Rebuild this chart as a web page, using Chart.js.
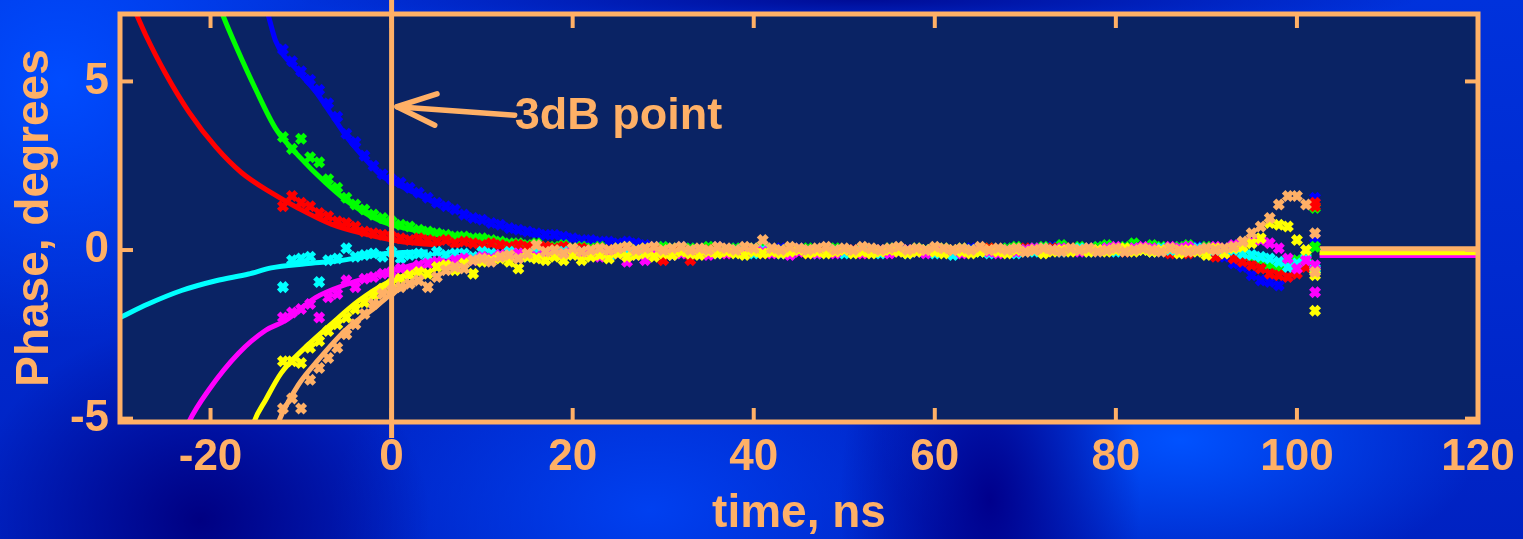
<!DOCTYPE html>
<html>
<head>
<meta charset="utf-8">
<script src="https://cdn.jsdelivr.net/npm/chart.js@4.4.0/dist/chart.umd.min.js"></script>
<style>
  html, body { margin: 0; padding: 0; }
  body {
    width: 1523px; height: 539px; overflow: hidden;
    background:
      radial-gradient(ellipse 230px 200px at 200px 520px, rgba(0,0,130,1), rgba(0,0,130,0)),
      radial-gradient(ellipse 150px 260px at 990px 500px, rgba(0,0,140,1), rgba(0,0,140,0)),
      radial-gradient(ellipse 300px 150px at 1180px 440px, rgba(0,82,255,1), rgba(0,82,255,0)),
      radial-gradient(ellipse 260px 260px at 60px 80px, rgba(0,76,255,1), rgba(0,76,255,0)),
      radial-gradient(ellipse 560px 30px at 860px 0px, rgba(0,12,150,1), rgba(0,12,150,0)),
      radial-gradient(ellipse 320px 200px at 650px 510px, rgba(0,64,240,1), rgba(0,64,240,0)),
      linear-gradient(180deg, #0032dc 0%, #0022c2 100%);
  }
  canvas { display: block; }
</style>
</head>
<body>
<canvas id="phaseChart" width="1523" height="539"></canvas>
<script>
// axis ticks
const xTicks = [-20, 0, 20, 40, 60, 80, 100, 120];
const yTicks = [-5, 0, 5];

// sample times of the measured points (ns)
const tMarks = [
  -12, -11, -10, -9, -8, -7, -6, -5, -4, -3,
  -2, -1, 0, 1, 2, 3, 4, 5, 6, 7,
  8, 9, 10, 11, 12, 13, 14, 15, 16, 17,
  18, 19, 20, 21, 22, 23, 24, 25, 26, 27,
  28, 29, 30, 31, 32, 33, 34, 35, 36, 37,
  38, 39, 40, 41, 42, 43, 44, 45, 46, 47,
  48, 49, 50, 51, 52, 53, 54, 55, 56, 57,
  58, 59, 60, 61, 62, 63, 64, 65, 66, 67,
  68, 69, 70, 71, 72, 73, 74, 75, 76, 77,
  78, 79, 80, 81, 82, 83, 84, 85, 86, 87,
  88, 89, 90, 91, 92, 93, 94, 95, 96, 97,
  98, 99, 100, 101, 102, 102
];

// measured phase (degrees)
const blueMarks = [
  5.95, 5.6, 5.3, 5.05, 4.75, 4.35, 3.95, 3.45, 3.2, 2.8,
  2.5, 2.25, 2.1, 2.0, 1.85, 1.7, 1.55, 1.4, 1.3, 1.2,
  1.05, 0.95, 0.9, 0.8, 0.75, 0.65, 0.6, 0.55, 0.5, 0.45,
  0.45, 0.4, 0.35, 0.3, 0.3, 0.25, 0.25, 0.2, 0.25, 0.2,
  0.15, 0.1, 0.1, 0.05, 0.1, 0.05, 0, 0.05, 0.1, 0,
  0.05, 0, 0.05, -0.05, 0, 0.05, 0, 0.05, -0.05, 0,
  0.05, 0, -0.05, 0, 0.05, 0, -0.05, 0, 0.05, 0,
  0, -0.05, 0.05, 0, -0.05, 0, 0.05, 0, -0.05, 0,
  0.05, 0, -0.05, 0, 0.05, 0.1, 0, 0.05, 0, 0.05,
  0.1, 0, 0.05, 0.1, 0, 0.05, 0.1, 0.05, 0, 0.1,
  0.05, 0.1, 0, -0.1, -0.2, -0.4, -0.5, -0.75, -0.9, -0.95,
  -1.05, -0.8, -0.3, 0, 1.55, 0.35
];
const greenMarks = [
  3.35, 3.0, 3.3, 2.75, 2.6, 2.1, 1.85, 1.55, 1.35, 1.2,
  1.05, 0.95, 0.85, 0.75, 0.7, 0.6, 0.55, 0.5, 0.45, 0.4,
  0.4, 0.35, 0.35, 0.3, 0.25, 0.2, 0.2, 0.15, 0.2, 0.1,
  0.1, 0.15, 0.05, 0.1, 0.05, 0.1, 0, 0.05, 0.1, 0,
  0.05, 0, 0.1, 0.05, 0, 0.05, 0, 0.1, 0.05, 0,
  0.05, 0, 0.05, 0.1, 0, 0, 0.05, 0, 0.05, 0,
  0, 0.05, 0, -0.05, 0.05, 0, 0, 0.05, 0, -0.05,
  0.05, 0, 0, 0.05, 0, 0.05, 0, -0.05, 0.05, 0,
  0.05, 0.1, 0, 0.05, 0.1, 0.05, 0.15, 0.05, 0.1, 0.05,
  0.1, 0.15, 0.05, 0.1, 0.2, 0.05, 0.15, 0.1, 0.05, 0.1,
  0.15, 0.05, 0.1, 0.05, 0, 0.1, -0.1, -0.2, -0.3, -0.45,
  -0.55, -0.4, -0.3, -0.2, 1.25, 0.1
];
const redMarks = [
  1.3, 1.6, 1.4, 1.3, 1.1, 1.0, 0.85, 0.8, 0.7, 0.55,
  0.5, 0.45, 0.4, 0.35, 0.3, 0.35, 0.3, 0.25, 0.3, 0.2,
  0.25, 0.2, 0.15, 0.2, 0.15, 0.1, 0.15, 0.1, 0.05, 0.1,
  0.05, 0.1, 0, 0.05, 0, 0.05, 0, -0.05, 0, -0.05,
  -0.1, 0, -0.3, -0.05, 0, -0.3, -0.05, 0, -0.05, -0.1,
  0, -0.05, 0, -0.1, 0, -0.05, 0, -0.05, -0.1, 0,
  -0.05, 0, -0.05, 0, -0.1, 0, -0.05, 0, 0, -0.05,
  0, -0.05, 0, 0, -0.05, 0, -0.05, 0, 0.05, 0,
  -0.05, 0, 0.05, 0, -0.05, 0.05, 0, 0.05, 0, -0.05,
  0, 0.05, 0, -0.05, 0.05, 0, -0.05, 0, -0.1, 0,
  -0.1, 0, -0.05, -0.2, -0.1, -0.25, -0.35, -0.45, -0.55, -0.7,
  -0.75, -0.8, -0.7, -0.5, 1.4, 1.3
];
const cyanMarks = [
  -1.1, -0.3, -0.25, -0.2, -0.95, -0.3, -0.25, 0.05, -0.2, -0.15,
  -0.1, -0.2, -0.05, -0.25, -0.15, -0.1, -0.2, -0.05, -0.15, -0.1,
  -0.1, -0.2, -0.05, -0.1, -0.15, -0.05, -0.1, -0.2, -0.05, -0.1,
  -0.15, -0.05, -0.1, -0.05, -0.15, -0.1, -0.2, -0.05, -0.1, -0.15,
  -0.05, -0.1, -0.05, -0.15, -0.05, -0.1, 0, -0.05, -0.1, -0.05,
  0, -0.05, -0.1, 0, -0.05, -0.1, -0.05, 0, -0.05, -0.1,
  -0.05, 0, -0.1, -0.05, 0, -0.05, -0.1, -0.05, 0, -0.1,
  -0.05, 0, -0.1, -0.05, -0.15, -0.05, 0, -0.05, -0.1, 0,
  -0.05, -0.1, 0, -0.05, 0.05, 0, -0.05, 0, 0.05, -0.05,
  0, 0.05, -0.05, 0, 0.05, 0, -0.05, 0.05, 0, -0.05,
  0, 0.05, -0.05, 0, -0.05, 0, -0.1, -0.15, -0.2, -0.25,
  -0.35, -0.5, -0.4, -0.25, -0.55, -0.6
];
const magentaMarks = [
  -2.0, -1.85, -1.75, -1.6, -2.0, -1.4, -1.3, -0.9, -1.1, -0.85,
  -0.8, -0.7, -0.65, -0.55, -0.6, -0.45, -0.4, -0.35, -0.4, -0.3,
  -0.25, -0.3, -0.2, -0.25, -0.15, -0.2, -0.1, -0.15, -0.2, -0.1,
  -0.15, -0.1, -0.05, -0.15, -0.1, -0.2, -0.05, -0.1, -0.35, -0.15,
  -0.3, -0.1, -0.05, -0.15, -0.1, -0.05, -0.1, -0.15, -0.05, -0.1,
  -0.05, -0.1, 0, -0.05, -0.1, -0.05, -0.15, -0.05, 0, -0.1,
  -0.05, -0.1, 0, -0.05, -0.1, -0.05, 0, -0.1, -0.05, 0,
  -0.05, -0.1, 0, -0.05, 0, -0.1, -0.05, 0, -0.05, -0.1,
  0, -0.05, 0, 0.05, -0.05, 0, 0.05, 0, -0.05, 0.05,
  0, 0.05, 0.1, 0, 0.05, 0.1, 0.05, 0, 0.1, 0.05,
  0.1, 0, 0.05, 0.1, 0.05, 0.15, 0.2, 0.25, 0.3, 0.2,
  0.05, -0.25, -0.55, -0.3, -1.25, -0.45
];
const yellowMarks = [
  -3.3, -3.3, -3.35, -2.9, -2.7, -2.4, -2.2, -2.0, -1.75, -1.55,
  -1.35, -1.15, -1.0, -0.85, -0.75, -0.65, -0.7, -0.5, -0.45, -0.6,
  -0.4, -0.7, -0.35, -0.3, -0.25, -0.35, -0.55, -0.2, -0.25, -0.3,
  -0.2, -0.3, -0.15, -0.3, -0.2, -0.15, -0.25, -0.1, -0.2, -0.15,
  -0.1, -0.2, -0.1, -0.15, -0.05, -0.1, -0.15, -0.05, -0.1, -0.05,
  -0.1, -0.15, -0.05, -0.1, -0.05, -0.1, -0.05, 0, -0.1, -0.05,
  -0.1, -0.05, 0, -0.1, -0.05, -0.1, -0.05, 0, -0.05, -0.1,
  -0.05, 0, -0.05, -0.1, 0, -0.05, -0.1, -0.05, 0, -0.05,
  -0.1, 0, -0.05, 0, -0.1, -0.05, 0, -0.05, 0, -0.05,
  0, -0.05, 0, 0.05, -0.05, 0, -0.05, 0, 0.05, -0.1,
  0, -0.05, -0.15, 0.05, -0.1, 0.05, 0.1, 0.2, 0.35, 0.8,
  0.75, 0.7, 0.3, 0, -0.75, -1.8
];
const orangeMarks = [
  -4.7, -4.4, -4.7, -3.85, -3.5, -3.2, -2.9, -2.5, -2.2, -1.9,
  -1.6, -1.3, -1.2, -1.1, -1.0, -0.9, -1.1, -0.8, -0.6, -0.5,
  -0.55, -0.3, -0.25, -0.35, -0.2, -0.15, -0.25, -0.1, 0.15, -0.05,
  0, -0.1, 0.05, -0.05, 0, 0.05, 0, 0.05, 0.1, 0,
  0.05, 0.1, 0, 0.05, 0.1, 0, 0.05, 0, 0.1, 0.05,
  0, 0.1, 0.05, 0.3, 0.05, 0, 0.1, 0.05, 0, 0.05,
  0.1, 0, 0.05, 0, 0.1, 0.05, 0, 0.05, 0.1, 0,
  0.05, 0, 0.1, 0.05, 0, 0.05, 0, 0.1, 0, 0.05,
  0, 0.05, -0.05, 0, 0.05, 0, -0.05, 0.05, 0, 0.05,
  -0.05, 0, 0.05, -0.05, 0, 0.05, 0, -0.05, 0.05, 0,
  -0.05, 0, 0.05, 0, 0.05, 0.1, 0.25, 0.5, 0.7, 0.95,
  1.35, 1.6, 1.6, 1.35, 0.5, -0.65
];

// fitted curves (time ns, phase degrees)
const blueFitT = [-15, -13.6, -12.8, -10.3, -8.4, -6.6, -4.8, -2.9, -1.1, 1, 3.3, 5.5];
const blueFit = [8.2, 6.94, 6.2, 5.3, 4.7, 4.0, 3.3, 2.7, 2.2, 1.9, 1.6, 1.3];
const greenFitT = [-19.5, -18.6, -17.2, -15, -12.8, -10.3, -7.3, -4.4, -1.1, 4.4, 11.8];
const greenFit = [7.6, 6.94, 6.05, 4.76, 3.6, 2.8, 2.0, 1.35, 0.85, 0.5, 0.26];
const redFitT = [-29, -28.2, -27.2, -25, -22.4, -19.4, -16.6, -13.3, -10.3, -6.6, -2.9, 0.8, 5];
const redFit = [7.5, 7.0, 6.4, 5.25, 4.1, 3.05, 2.3, 1.7, 1.24, 0.76, 0.47, 0.26, 0.15];
const cyanFitT = [-30, -26.9, -23.2, -19.4, -15.8, -13.3, -9.5, -5.9, -1.1, 4];
const cyanFit = [-2.0, -1.6, -1.2, -0.91, -0.71, -0.53, -0.41, -0.32, -0.12, -0.05];
const magentaFitT = [-23, -22.4, -20.2, -16.9, -13.9, -11.7, -8.4, -4.8, -1.1, 3];
const magentaFit = [-5.5, -5.1, -4.15, -3.06, -2.38, -2.09, -1.41, -1.0, -0.7, -0.4];
const yellowFitT = [-15.6, -15.2, -13.9, -12.2, -9.5, -6.6, -3.6, -0.7, 3];
const yellowFit = [-5.5, -5.1, -4.44, -3.65, -2.88, -2.18, -1.5, -1.0, -0.6];
const orangeFitT = [-13, -12.5, -10.3, -8.1, -5.1, -1.8, 0, 3];
const orangeFit = [-5.5, -5.1, -4.0, -3.26, -2.38, -1.7, -1.3, -0.9];

// flat traces after the pulse
const tailT = [102.5, 120];
const orangeTail = [0.04, 0.04];
const yellowTail = [-0.08, -0.08];
const magentaTail = [-0.16, -0.16];

// 3dB marker
const markerT = 0;
const arrowTip = { x: 0.6, y: 4.25 };
const arrowTail = { x: 13.6, y: 4.0 };
const noteText = "3dB point";

const ORANGE = "#ffb066";
const PLOT_BG = "#0a2364";
const FONT = "'Liberation Sans', Arial, sans-serif";
const col = {
  blue: "#0000ff", green: "#00ff00", red: "#ff0000", cyan: "#00ffff",
  magenta: "#ff00ff", yellow: "#ffff00", orange: ORANGE
};

function pts(xs, ys) {
  return xs.map((x, i) => ({ x: x, y: ys[i] }));
}

function fitSet(xs, ys, c, order) {
  return {
    data: pts(xs, ys), showLine: true, borderColor: c, borderWidth: 5,
    pointRadius: 0, cubicInterpolationMode: "monotone", order: order, clip: 0
  };
}

function markSet(ys, c, order) {
  return {
    data: pts(tMarks, ys), showLine: false, pointStyle: "crossRot",
    pointRadius: 6, borderWidth: 5, borderColor: c, backgroundColor: c,
    order: order
  };
}

const datasets = [
  markSet(orangeMarks, col.orange, 1),
  markSet(yellowMarks, col.yellow, 2),
  markSet(magentaMarks, col.magenta, 3),
  markSet(cyanMarks, col.cyan, 4),
  markSet(redMarks, col.red, 5),
  markSet(greenMarks, col.green, 6),
  markSet(blueMarks, col.blue, 7),
  fitSet(tailT, orangeTail, col.orange, 10),
  fitSet(tailT, yellowTail, col.yellow, 11),
  fitSet(tailT, magentaTail, col.magenta, 12),
  fitSet(orangeFitT, orangeFit, col.orange, 20),
  fitSet(yellowFitT, yellowFit, col.yellow, 21),
  fitSet(magentaFitT, magentaFit, col.magenta, 22),
  fitSet(cyanFitT, cyanFit, col.cyan, 23),
  fitSet(redFitT, redFit, col.red, 24),
  fitSet(greenFitT, greenFit, col.green, 25),
  fitSet(blueFitT, blueFit, col.blue, 26)
];

// plot background, frame, inner ticks, 3dB line + arrow
const framePlugin = {
  id: "frame",
  beforeDraw(chart) {
    const { ctx, chartArea: a } = chart;
    ctx.save();
    ctx.fillStyle = PLOT_BG;
    ctx.fillRect(a.left, a.top, a.right - a.left, a.bottom - a.top);
    ctx.restore();
  },
  afterDraw(chart) {
    const { ctx, chartArea: a, scales } = chart;
    const xs = scales.x, ys = scales.y;
    const seg = (x1, y1, x2, y2) => {
      ctx.beginPath(); ctx.moveTo(x1, y1); ctx.lineTo(x2, y2); ctx.stroke();
    };
    ctx.save();
    ctx.strokeStyle = ORANGE;
    ctx.fillStyle = ORANGE;
    ctx.lineWidth = 4;
    xTicks.forEach(v => {
      const px = xs.getPixelForValue(v);
      seg(px, a.bottom, px, a.bottom - 14);
      seg(px, a.top, px, a.top + 14);
    });
    yTicks.forEach(v => {
      const py = ys.getPixelForValue(v);
      seg(a.left, py, a.left + 13, py);
      seg(a.right, py, a.right - 13, py);
    });
    ctx.lineWidth = 5;
    ctx.strokeRect(a.left, a.top, a.right - a.left, a.bottom - a.top);

    // 3dB vertical line
    const x0 = xs.getPixelForValue(markerT);
    ctx.lineWidth = 5;
    seg(x0, 0, x0, a.bottom + 16);

    // arrow
    const tx = xs.getPixelForValue(arrowTip.x), ty = ys.getPixelForValue(arrowTip.y);
    const ex = xs.getPixelForValue(arrowTail.x), ey = ys.getPixelForValue(arrowTail.y);
    const ang = Math.atan2(ey - ty, ex - tx);
    const len = 42, spread = 22 * Math.PI / 180;
    ctx.lineWidth = 5.5;
    ctx.lineCap = "round";
    ctx.lineJoin = "round";
    seg(tx, ty, ex, ey);
    ctx.beginPath();
    ctx.moveTo(tx + len * Math.cos(ang - spread), ty + len * Math.sin(ang - spread));
    ctx.lineTo(tx, ty);
    ctx.lineTo(tx + len * Math.cos(ang + spread), ty + len * Math.sin(ang + spread));
    ctx.stroke();

    ctx.font = "bold 45px " + FONT;
    ctx.textAlign = "left";
    ctx.textBaseline = "middle";
    ctx.fillText(noteText, ex, ey + 1);
    ctx.restore();
  }
};

new Chart(document.getElementById("phaseChart"), {
  type: "scatter",
  data: { datasets: datasets },
  options: {
    responsive: false,
    animation: false,
    events: [],
    layout: { padding: { left: 0, right: 45, top: 14, bottom: 0 } },
    plugins: { legend: { display: false }, tooltip: { enabled: false } },
    scales: {
      x: {
        type: "linear", min: -30, max: 120,
        grid: { display: false, drawTicks: false },
        border: { display: false },
        afterBuildTicks: s => { s.ticks = xTicks.map(v => ({ value: v })); },
        afterFit: s => { s.height = 117; s.paddingLeft = 0; s.paddingRight = 0; },
        ticks: {
          color: ORANGE, padding: 9, autoSkip: false, maxRotation: 0,
          font: { family: FONT, size: 44, weight: "bold" }
        },
        title: {
          display: true, text: "time, ns", color: ORANGE,
          padding: { top: 0, bottom: 2 },
          font: { family: FONT, size: 46, weight: "bold", lineHeight: 1 }
        }
      },
      y: {
        type: "linear", min: -5.1, max: 7,
        grid: { display: false, drawTicks: false },
        border: { display: false },
        afterBuildTicks: s => { s.ticks = yTicks.map(v => ({ value: v })); },
        afterFit: s => { s.width = 120; s.paddingTop = 0; s.paddingBottom = 0; },
        ticks: {
          color: ORANGE, padding: 11,
          font: { family: FONT, size: 44, weight: "bold" }
        },
        title: {
          display: true, text: "Phase, degrees", color: ORANGE,
          padding: { top: 8, bottom: 0 },
          font: { family: FONT, size: 46, weight: "bold", lineHeight: 1.2 }
        }
      }
    }
  },
  plugins: [framePlugin]
});
</script>
</body>
</html>
